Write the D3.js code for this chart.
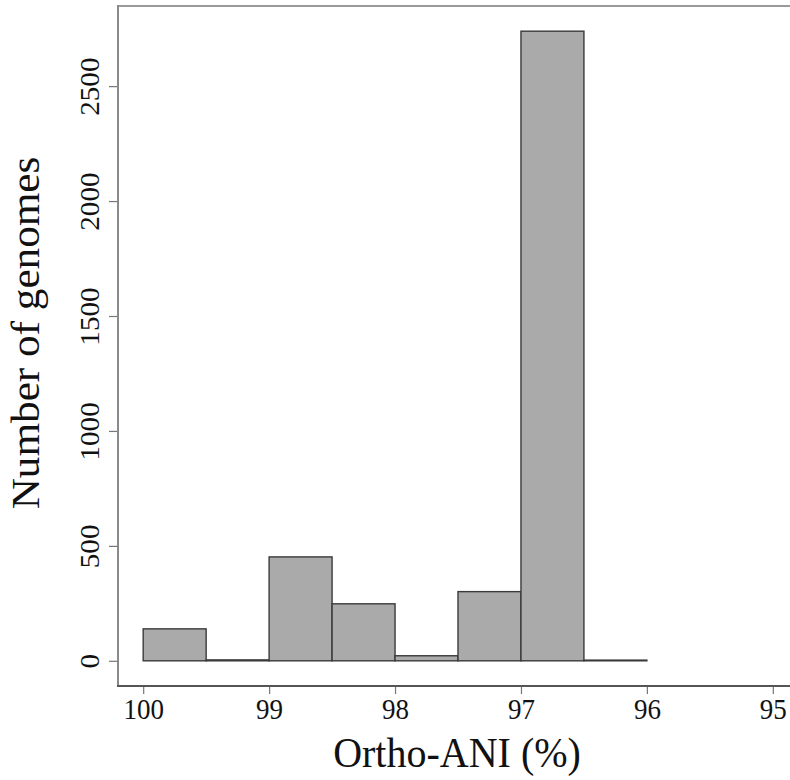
<!DOCTYPE html>
<html>
<head>
<meta charset="utf-8">
<script src="https://cdn.jsdelivr.net/npm/d3@7"></script>
<style>
  html, body { margin: 0; padding: 0; background: #fff; overflow: hidden; }
  svg { display: block; }
  text { font-family: "Liberation Serif", "Times New Roman", serif; fill: #111; }
</style>
</head>
<body>
<svg id="chart" width="790" height="780"></svg>
<script>
// Histogram of Ortho-ANI values: bins of 0.5 % from 100 down to 96
const binStart = [100, 99.5, 99, 98.5, 98, 97.5, 97, 96.5];
const binEnd   = [99.5, 99, 98.5, 98, 97.5, 97, 96.5, 96];
const counts   = [139, 4, 452, 248, 22, 301, 2739, 3];
const xTicks   = [100, 99, 98, 97, 96, 95];
const yTicks   = [0, 500, 1000, 1500, 2000, 2500];

const svg = d3.select("#chart");

// plotting region (right side runs past the window edge)
const plotL = 118, plotR = 798, plotT = 6, plotB = 686;
// glyphs are drawn slightly taller than wide
const stretch = 1.08;

// axis ranges padded by 4 % like base-R graphics
const xLo = 100, xHi = 95, xPad = (xLo - xHi) * 0.04;
const yMax = d3.max(counts), yPad = yMax * 0.04;

const x = d3.scaleLinear().domain([xLo + xPad, xHi - xPad]).range([plotL, plotR]);
const y = d3.scaleLinear().domain([-yPad, yMax + yPad]).range([plotB, plotT]);

// top frame line
svg.append("line").attr("x1", plotL).attr("x2", plotR).attr("y1", plotT).attr("y2", plotT)
  .attr("stroke", "#9a9a9a").attr("stroke-width", 2);

// bars
const bins = binStart.map((s, i) => ({ s, e: binEnd[i], n: counts[i] }));
svg.append("g").selectAll("rect").data(bins).join("rect")
  .attr("x", d => x(d.s))
  .attr("y", d => y(d.n))
  .attr("width", d => x(d.e) - x(d.s))
  .attr("height", d => y(0) - y(d.n))
  .attr("fill", "#aaaaaa")
  .attr("stroke", "#3a3a3a")
  .attr("stroke-width", 1.4);

// y axis
const yAxis = svg.append("g").attr("transform", `translate(${plotL},0)`)
  .call(d3.axisLeft(y).tickValues(yTicks).tickSize(9).tickSizeOuter(0).tickFormat(d3.format("d")));
yAxis.select(".domain").remove();
svg.append("line").attr("x1", plotL).attr("x2", plotL).attr("y1", plotT - 1).attr("y2", plotB + 1)
  .attr("stroke", "#8a8a8a").attr("stroke-width", 2);
yAxis.selectAll(".tick line").attr("stroke", "#777").attr("stroke-width", 1.2);
yAxis.selectAll(".tick text")
  .attr("x", null).attr("dy", null)
  .attr("transform", `translate(-19,0) rotate(-90) scale(${stretch},1)`)
  .attr("text-anchor", "middle")
  .style("font-size", "27px")
  .style("font-family", "'Liberation Serif', serif")
  .attr("fill", "#222");

// x axis
const xAxis = svg.append("g").attr("transform", `translate(0,${plotB})`)
  .call(d3.axisBottom(x).tickValues(xTicks).tickSize(8).tickSizeOuter(0).tickFormat(d3.format("d")));
xAxis.select(".domain").remove();
svg.append("line").attr("x1", plotL - 1).attr("x2", plotR).attr("y1", plotB).attr("y2", plotB)
  .attr("stroke", "#555").attr("stroke-width", 2);
xAxis.selectAll(".tick line").attr("stroke", "#777").attr("stroke-width", 1.2);
xAxis.selectAll(".tick text")
  .attr("y", null).attr("dy", null)
  .attr("transform", `translate(0,33) scale(1,${stretch})`)
  .style("font-size", "27px")
  .style("font-family", "'Liberation Serif', serif")
  .attr("fill", "#222");

// axis titles
svg.append("text")
  .attr("transform", `translate(457,767) scale(1,${stretch})`)
  .attr("text-anchor", "middle")
  .style("font-size", "40px")
  .text("Ortho-ANI (%)");

svg.append("text")
  .attr("transform", `translate(39,333) rotate(-90) scale(${stretch},1)`)
  .attr("text-anchor", "middle")
  .style("font-size", "40px")
  .text("Number of genomes");
</script>
</body>
</html>
